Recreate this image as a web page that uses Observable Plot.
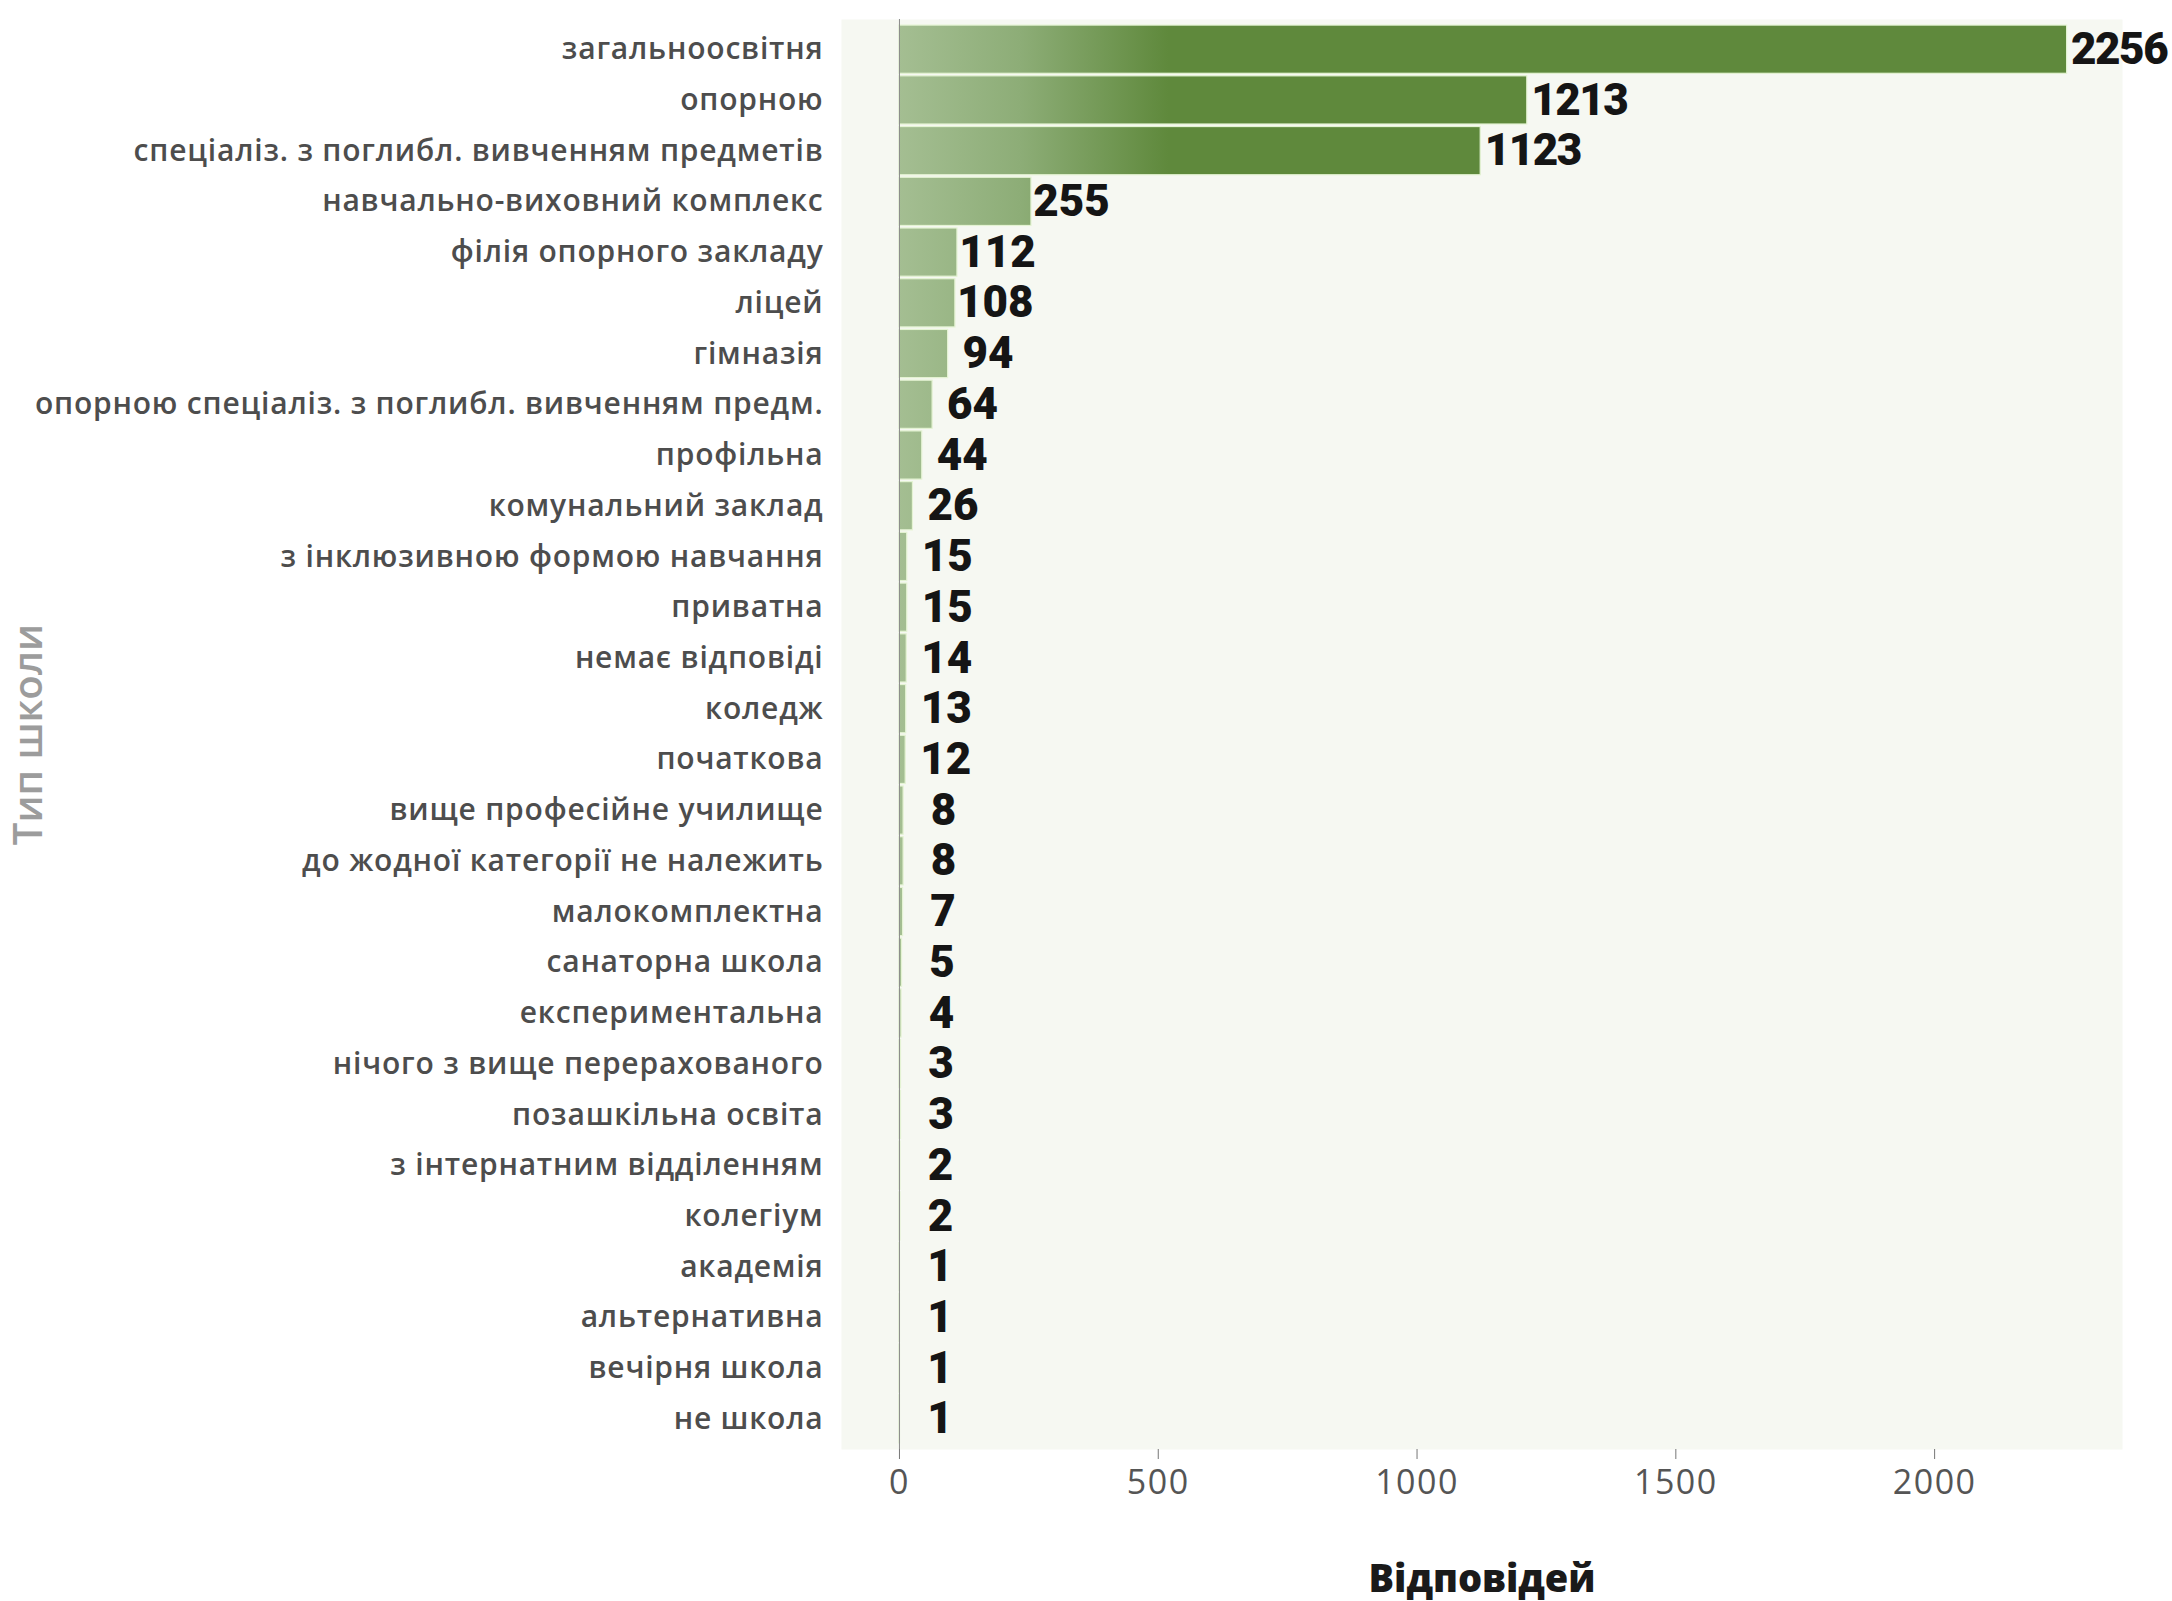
<!DOCTYPE html>
<html><head><meta charset="utf-8">
<script src="https://cdn.jsdelivr.net/npm/d3@7"></script>
<script src="https://cdn.jsdelivr.net/npm/@observablehq/plot@0.6"></script>
<style>
html,body{margin:0;padding:0;background:#fff;}
#chart g[aria-label="x-axis label"] text{font-size:38px;font-weight:800;fill:#1a1a1a;}
#chart g[aria-label="y-axis label"] text{font-size:40px;font-weight:600;fill:#9c9c9c;}
#chart g[aria-label="x-axis tick label"] text{fill:#555;letter-spacing:1.5px;}
#chart g[aria-label="y-axis tick label"] text{letter-spacing:0.8px;}
#chart g.big-labels text{letter-spacing:-1.5px;}
</style></head><body><div id="chart"></div>
<script>
const categories = [
  "загальноосвітня",
  "опорною",
  "спеціаліз. з поглибл. вивченням предметів",
  "навчально-виховний комплекс",
  "філія опорного закладу",
  "ліцей",
  "гімназія",
  "опорною спеціаліз. з поглибл. вивченням предм.",
  "профільна",
  "комунальний заклад",
  "з інклюзивною формою навчання",
  "приватна",
  "немає відповіді",
  "коледж",
  "початкова",
  "вище професійне училище",
  "до жодної категорії не належить",
  "малокомплектна",
  "санаторна школа",
  "експериментальна",
  "нічого з вище перерахованого",
  "позашкільна освіта",
  "з інтернатним відділенням",
  "колегіум",
  "академія",
  "альтернативна",
  "вечірня школа",
  "не школа"
];
const values = [2256, 1213, 1123, 255, 112, 108, 94, 64, 44, 26, 15, 15, 14, 13, 12, 8, 8, 7, 5, 4, 3, 3, 2, 2, 1, 1, 1, 1];
const xTicks = [0, 500, 1000, 1500, 2000];
const xTitle = "Відповідей";
const yTitle = "Тип школи";

const data = categories.map((c, i) => ({type: c, count: values[i]}));

const gradientDefs = (index, scales) => {
  const x0 = scales.x(0), x1 = scales.x(520);
  const defs = d3.create("svg:defs");
  const g = defs.append("linearGradient")
    .attr("id", "barGrad").attr("gradientUnits", "userSpaceOnUse")
    .attr("x1", x0).attr("x2", x1).attr("y1", 0).attr("y2", 0);
  g.append("stop").attr("offset", 0).attr("stop-color", "#a4be92");
  g.append("stop").attr("offset", 0.45).attr("stop-color", "#8dad77");
  g.append("stop").attr("offset", 1).attr("stop-color", "#5f893c");
  return defs.node();
};

const chart = Plot.plot({
  width: 2172,
  height: 1601,
  marginLeft: 841,
  marginRight: 50,
  marginTop: 19,
  marginBottom: 152,
  style: {fontFamily: "'Open Sans', sans-serif", background: "#fff", overflow: "visible"},
  x: {domain: [-112, 2363]},
  y: {domain: categories, paddingInner: 0.05, paddingOuter: 0.12, round: false},
  marks: [
    gradientDefs,
    Plot.frame({fill: "#f6f8f2", stroke: null}),
    Plot.barX(data, {x: "count", y: "type", fill: "url(#barGrad)", stroke: "#e4f3d3", strokeWidth: 1.2}),
    Plot.ruleX([0], {stroke: "#8a8a8a", strokeWidth: 1}),
    Plot.text(data.filter(d => d.count < 1000), {
      x: "count", y: "type", text: d => String(d.count),
      textAnchor: "middle", dx: 40, fontSize: 44, fontWeight: 900,
      fontFamily: "Roboto, sans-serif", fill: "#151515"
    }),
    Plot.text(data.filter(d => d.count >= 1000), {
      x: "count", y: "type", text: d => String(d.count),
      textAnchor: "start", dx: 4, fontSize: 44, fontWeight: 900,
      fontFamily: "Roboto, sans-serif", fill: "#151515", className: "big-labels"
    }),
    Plot.axisX({
      ticks: xTicks, tickFormat: d => String(d), tickSize: 10, tickPadding: 10, fontSize: 34,
      label: xTitle, labelArrow: "none", labelAnchor: "center", labelOffset: 142, color: "#777"
    }),
    Plot.axisY({
      tickSize: 0, tickPadding: 18, fontSize: 30, fontWeight: 600,
      label: yTitle, labelArrow: "none", labelAnchor: "center", labelOffset: 828, color: "#4d4d4d"
    })
  ]
});
chart.querySelectorAll('g[aria-label$="axis label"] text').forEach(t => {
  t.textContent = t.textContent.replace(/[→←↑↓]/g, "").trim();
});
document.getElementById("chart").appendChild(chart);
</script>
</body></html>
